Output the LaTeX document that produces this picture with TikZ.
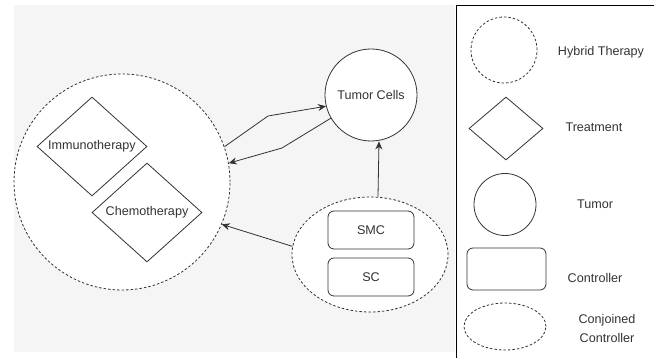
\documentclass[tikz,border=0pt]{standalone}
\usepackage{fontspec}
\setmainfont{Liberation Sans}
\usepackage{tikz}
\usetikzlibrary{shapes.geometric, arrows.meta, positioning}
\definecolor{bggray}{HTML}{F5F5F5}
\definecolor{linegray}{HTML}{333333}

\begin{document}
\begin{tikzpicture}[x=1pt, y=-1pt,
  every node/.style={font=\fontsize{12.6}{19}\selectfont, text=linegray},
  hybrid/.style={circle, draw=linegray, dash pattern=on 2.5pt off 2pt, line width=0.8pt, fill=white},
  treat/.style={diamond, draw=linegray, line width=0.8pt, fill=white, aspect=1.1, inner sep=0pt},
  tumor/.style={circle, draw=linegray, line width=0.8pt, fill=white},
  ctrl/.style={rectangle, rounded corners=6pt, draw=linegray, line width=0.8pt, fill=white},
  conj/.style={ellipse, draw=linegray, dash pattern=on 2.5pt off 2pt, line width=0.8pt, fill=white, inner sep=0pt},
  pfeil/.style={-{Stealth[length=8pt, width=7pt]}, line width=0.8pt, draw=linegray}]

      \useasboundingbox (0,0) rectangle (654,358);

      % Hintergrund
      \fill[bggray] (14,5) rectangle (455,352);

      % Rahmen der Legende
      \draw[line width=0.8pt] (654,5) -- (456,5) -- (456,358);

      % Hybride Therapie
      \node[hybrid, minimum size=216pt] (hyb) at (122,182) {};
      \node[treat, minimum width=110pt, minimum height=99pt] (immuno) at (92,146.5) {Immunotherapy};
      \node[treat, minimum width=110pt, minimum height=99pt] (chemo) at (147,212.5) {Chemotherapy};

      % Tumor
      \node[tumor, minimum size=92pt] (tumor) at (371,95) {Tumor Cells};

      % Verbundene Regler
      \node[conj, minimum width=156pt, minimum height=115pt] (conj) at (370,254.5) {};
      \node[ctrl, minimum width=86pt, minimum height=38pt] (smc) at (371,230) {SMC};
      \node[ctrl, minimum width=86pt, minimum height=38pt] (sc) at (371,277) {SC};

      % Knickpunkte
      \coordinate (knickA) at (268,116);
      \coordinate (knickB) at (282,148);

      % Pfeile
      \draw[pfeil] (hyb.19) -- (knickA) -- (tumor.194);
      \draw[pfeil] (tumor.210) -- (knickB) -- (hyb.10);
      \draw[pfeil] ([xshift=8pt]conj.north) -- ([xshift=8pt]tumor.south);
      \draw[pfeil] (conj.174) -- (hyb.337);

      % Legende
      \node[hybrid, minimum size=66pt] (lhyb) at (504,50) {};
      \node (lhybtext) at (601,52) {Hybrid Therapy};
      \node[treat, minimum width=74pt, minimum height=63pt] (ltreat) at (506,128.5) {};
      \node (ltreattext) at (594,127) {Treatment};
      \node[tumor, minimum size=62pt] (ltumor) at (505,204.5) {};
      \node (ltumortext) at (595,204) {Tumor};
      \node[ctrl, minimum width=79pt, minimum height=42pt] (lctrl) at (506.5,269) {};
      \node (lctrltext) at (595,278) {Controller};
      \node[conj, minimum width=82pt, minimum height=47pt] (lconj) at (505,326.5) {};
      \node[align=center] (lconjtext) at (607,328) {Conjoined\\Controller};

\end{tikzpicture}
\end{document}
